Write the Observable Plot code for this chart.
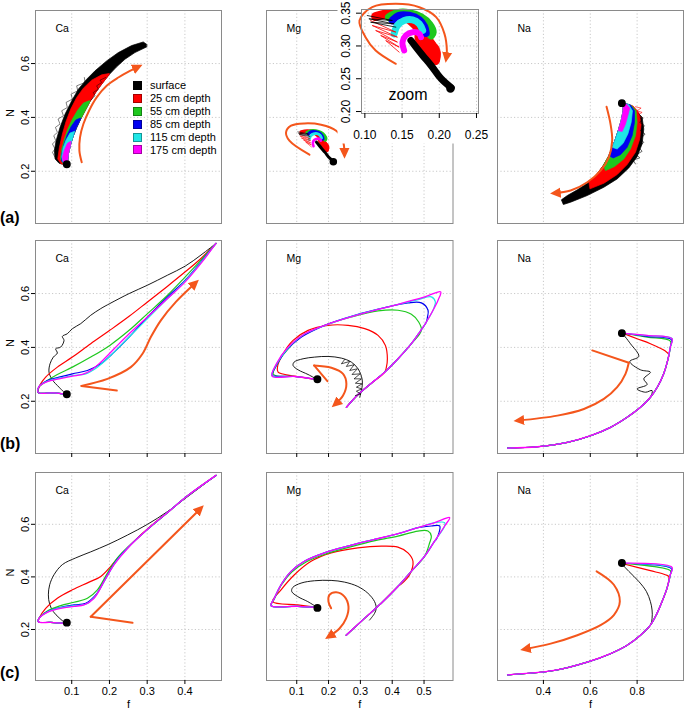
<!DOCTYPE html>
<html>
<head>
<meta charset="utf-8">
<script src="https://cdn.jsdelivr.net/npm/d3@7"></script>
<script src="https://cdn.jsdelivr.net/npm/@observablehq/plot@0.6"></script>
<style>
  html, body { margin: 0; padding: 0; background: #fff; }
  #chart { position: relative; width: 685px; height: 715px; overflow: hidden; background: #fff;
           font-family: "Liberation Sans", Arial, Helvetica, sans-serif; color: #000; }
  #chart svg { position: absolute; overflow: visible; max-width: none; }
  .rowlab { position: absolute; left: 0; font-size: 16px; font-weight: bold; line-height: 16px; }
  #legend { position: absolute; left: 133px; top: 79px; font-size: 11px; }
  #legend .item { display: flex; align-items: center; height: 12.9px; white-space: nowrap; }
  #legend .sw { width: 9px; height: 9px; margin-right: 8px; box-sizing: border-box; border: 1px solid rgba(0,0,0,0.35); }
</style>
</head>
<body>
<div id="chart"></div>
<script>
// ---------------- categories / labels ----------------
const SERIES = ["surface", "25 cm depth", "55 cm depth", "85 cm depth", "115 cm depth", "175 cm depth"];
const COLORS = ["#000000", "#ff0000", "#1ec81e", "#0000f0", "#1fe6e6", "#ff00ff"];
const ORANGE = "#f4561c";
const ELEMENTS = ["Ca", "Mg", "Na"];
const ROW_LABELS = ["(a)", "(b)", "(c)"];
const N_TICKS = [0.2, 0.4, 0.6];
const F_TICKS = [[0.1, 0.2, 0.3, 0.4], [0.1, 0.2, 0.3, 0.4, 0.5], [0.4, 0.6, 0.8]];
const ZOOM_F_TICKS = [0.10, 0.15, 0.20, 0.25];
const ZOOM_N_TICKS = [0.20, 0.25, 0.30, 0.35];

// ---------------- start points (black dots) ----------------
const CA_START = [0.087, 0.226];
const MG_START_A = [0.215, 0.235];
const MG_START = [0.165, 0.282];
const NA_START = [0.735, 0.453];

// ---------------- (a) Ca : bands ----------------
const CA_A_EDGE = [[0.0885,0.2272],[0.0912,0.2642],[0.0974,0.3012],[0.1044,0.3321],[0.1132,0.3630],[0.1238,0.3938],[0.1353,0.4247],[0.1485,0.4593],[0.1635,0.4926],[0.1794,0.5235],[0.1988,0.5580],[0.2190,0.5877],[0.2411,0.6160],[0.2675,0.6407],[0.2984,0.6617]];
const CA_A_UPPER = [
  [[0.2984,0.6716],[0.2896,0.6802],[0.2587,0.6667],[0.2235,0.6407],[0.1926,0.6099],[0.1617,0.5728],[0.1397,0.5420],[0.1176,0.5049],[0.1000,0.4617],[0.0824,0.4123],[0.0691,0.3630],[0.0586,0.3136],[0.0541,0.2765],[0.0559,0.2457],[0.0665,0.2296],[0.0841,0.2235]],
  [[0.1988,0.5630],[0.1794,0.5580],[0.1529,0.5383],[0.1309,0.5086],[0.1132,0.4741],[0.0974,0.4309],[0.0850,0.3852],[0.0753,0.3383],[0.0674,0.2889],[0.0630,0.2457],[0.0718,0.2272]],
  [[0.1459,0.4617],[0.1309,0.4531],[0.1159,0.4272],[0.1018,0.3938],[0.0894,0.3568],[0.0806,0.3198],[0.0735,0.2827],[0.0700,0.2457],[0.0780,0.2272]],
  [[0.1229,0.3975],[0.1106,0.3901],[0.0982,0.3654],[0.0877,0.3346],[0.0797,0.3012],[0.0735,0.2642],[0.0735,0.2370],[0.0824,0.2272]],
  [[0.1071,0.3481],[0.0956,0.3420],[0.0850,0.3160],[0.0771,0.2864],[0.0735,0.2543],[0.0771,0.2333]],
  [[0.0974,0.3111],[0.0885,0.3037],[0.0806,0.2790],[0.0753,0.2519],[0.0788,0.2296]]
];
const CA_A_REACH = [15, 11, 8, 6, 4, 3];
const CA_A_SPIKES_LEFT = [[0.0559,0.2519],[0.0489,0.2704],[0.0559,0.2827],[0.0489,0.3012],[0.0577,0.3136],[0.0524,0.3321],[0.0621,0.3444],[0.0568,0.3630],[0.0691,0.3753],[0.0638,0.3938],[0.0780,0.4062],[0.0735,0.4247],[0.0885,0.4370],[0.0850,0.4556],[0.1018,0.4679],[0.0982,0.4864],[0.1159,0.4988],[0.1132,0.5173],[0.1353,0.5296],[0.1335,0.5481]];
const CA_A_SPIKES_RIGHT = [[0.1511,0.4642],[0.1617,0.4802],[0.1573,0.4926],[0.1705,0.5049],[0.1661,0.5173],[0.1794,0.5296],[0.1750,0.5383],[0.1900,0.5481]];
const CA_A_ARROW = [[0.1265,0.2333],[0.1203,0.2765],[0.1220,0.3259],[0.1309,0.3753],[0.1459,0.4247],[0.1661,0.4741],[0.1926,0.5173],[0.2235,0.5481],[0.2543,0.5728],[0.2781,0.5889]];

// ---------------- (a) Mg : thick traces (also shown in zoom) ----------------
const MG_A_TRACES = [
  [[0.1619,0.3083],[0.1687,0.2982],[0.1777,0.2855],[0.1890,0.2702],[0.2025,0.2500],[0.2161,0.2362]],
  [[0.1145,0.3449],[0.1325,0.3490],[0.1506,0.3464],[0.1664,0.3337],[0.1777,0.3185],[0.1890,0.3033],[0.1958,0.2880],[0.1949,0.2778]],
  [[0.1325,0.3439],[0.1438,0.3500],[0.1596,0.3500],[0.1754,0.3439],[0.1867,0.3327],[0.1912,0.3210],[0.1890,0.3160]],
  [[0.1370,0.3388],[0.1461,0.3464],[0.1596,0.3464],[0.1732,0.3398],[0.1799,0.3297],[0.1822,0.3195]],
  [[0.1393,0.3185],[0.1438,0.3312],[0.1528,0.3388],[0.1641,0.3398],[0.1732,0.3337],[0.1777,0.3236]],
  [[0.1528,0.2931],[0.1506,0.3058],[0.1551,0.3160],[0.1641,0.3210],[0.1732,0.3185],[0.1754,0.3134]]
];
const MG_A_RED_BLOB = [[0.1687,0.3210],[0.1799,0.3185],[0.1912,0.3083],[0.1994,0.2982],[0.2012,0.2855],[0.1958,0.2753],[0.1876,0.2778],[0.1799,0.2880],[0.1732,0.2982],[0.1678,0.3083]];
const MG_A_BLACK_SPIKES = [[0.1032,0.3464],[0.1370,0.3388],[0.1054,0.3414],[0.1393,0.3337],[0.1077,0.3363],[0.1416,0.3287]];
const MG_A_RED_SPIKES = [[0.1077,0.3388],[0.1416,0.3211],[0.1099,0.3312],[0.1438,0.3134],[0.1145,0.3236],[0.1438,0.3058],[0.1213,0.3160],[0.1461,0.2982],[0.1280,0.3083],[0.1461,0.2906]];
const MG_A_ARROW = [[0.1399,0.2617],[0.0769,0.3136],[0.0664,0.3444],[0.0822,0.3691],[0.1241,0.3778],[0.1766,0.3728],[0.2239,0.3506],[0.2449,0.3136],[0.2501,0.2617]];
const MG_ZOOM_ARROW = [[0.1416,0.2728],[0.1145,0.2931],[0.1009,0.3134],[0.0928,0.3388],[0.1099,0.3591],[0.1416,0.3642],[0.1732,0.3591],[0.1958,0.3439],[0.2070,0.3185],[0.2102,0.2931],[0.2093,0.2804]];

// ---------------- (a) Na : bands ----------------
const NA_A_INNER = [[0.7404,0.4519],[0.7404,0.4247],[0.7319,0.3877],[0.7191,0.3506],[0.7050,0.3136],[0.6936,0.2889],[0.6794,0.2580],[0.6553,0.2210],[0.6270,0.1877],[0.5943,0.1593],[0.5447,0.1309],[0.5021,0.1099],[0.4766,0.0938]];
const NA_A_OUTER = [
  [[0.4851,0.0765],[0.5163,0.0852],[0.5872,0.1099],[0.6582,0.1407],[0.7149,0.1716],[0.7645,0.2123],[0.8000,0.2543],[0.8213,0.3012],[0.8284,0.3568],[0.8213,0.4000],[0.7929,0.4272],[0.7574,0.4494]],
  [[0.5986,0.1346],[0.6582,0.1556],[0.7149,0.1877],[0.7574,0.2247],[0.7929,0.2704],[0.8113,0.3198],[0.8170,0.3753],[0.8071,0.4185],[0.7830,0.4420]],
  [[0.6653,0.2025],[0.7035,0.2173],[0.7433,0.2457],[0.7716,0.2827],[0.7929,0.3321],[0.8000,0.3815],[0.7957,0.4247],[0.7773,0.4432]],
  [[0.6979,0.2494],[0.7291,0.2617],[0.7574,0.2889],[0.7787,0.3321],[0.7887,0.3815],[0.7887,0.4247],[0.7716,0.4457]],
  [[0.7149,0.2827],[0.7404,0.3037],[0.7603,0.3383],[0.7745,0.3815],[0.7801,0.4247],[0.7645,0.4469]],
  [[0.7362,0.3481],[0.7504,0.3753],[0.7603,0.4062],[0.7688,0.4346],[0.7546,0.4494]]
];
const NA_A_REACH = [13, 10, 8, 7, 6, 4];
const NA_A_BLACK_SPIKES = [[0.8071,0.4123],[0.8255,0.3975],[0.8113,0.3815],[0.8312,0.3691],[0.8142,0.3506],[0.8340,0.3383],[0.8142,0.3198],[0.8284,0.3074],[0.8071,0.2889],[0.8213,0.2741],[0.7972,0.2617],[0.8113,0.2494],[0.7830,0.2420],[0.7929,0.2272]];
const NA_A_RED_SPIKES = [[0.7929,0.4395],[0.8170,0.4346],[0.8000,0.4247],[0.8213,0.4185],[0.8043,0.4099],[0.8170,0.4000]];
const NA_A_ARROW = [[0.6695,0.4395],[0.6865,0.3753],[0.6936,0.3136],[0.6794,0.2519],[0.6440,0.2025],[0.5872,0.1593],[0.5163,0.1284],[0.4454,0.1185]];

// ---------------- (b) Ca ----------------
const CA_B_BOTTOM = [[0.0858,0.2249],[0.0531,0.2311],[0.0115,0.2323]];
const CA_B = [
  [[0.0858,0.2249],[0.0664,0.2522],[0.0487,0.2795],[0.0398,0.3081],[0.0425,0.3391],[0.0513,0.3640],[0.0619,0.3789],[0.0575,0.3950],[0.0708,0.4012],[0.0796,0.4261],[0.0752,0.4410],[0.0885,0.4509],[0.1018,0.4696],[0.1239,0.4882],[0.1504,0.5193],[0.1770,0.5441],[0.2009,0.5627],[0.2522,0.6000],[0.3009,0.6311],[0.3540,0.6683],[0.4009,0.7019],[0.4425,0.7429],[0.4823,0.7860]],
  [[0.0133,0.2522],[0.0310,0.2894],[0.0619,0.3267],[0.1018,0.3640],[0.1504,0.4137],[0.2009,0.4634],[0.2522,0.5155],[0.3009,0.5689],[0.3540,0.6273],[0.4009,0.6807],[0.4425,0.7304],[0.4823,0.7860]],
  [[0.0133,0.2522],[0.0354,0.2770],[0.0619,0.2994],[0.1018,0.3267],[0.1504,0.3640],[0.2009,0.4075],[0.2522,0.4634],[0.3009,0.5255],[0.3540,0.5938],[0.4009,0.6621],[0.4425,0.7242],[0.4823,0.7860]],
  [[0.0133,0.2547],[0.0354,0.2770],[0.0664,0.2894],[0.1018,0.3019],[0.1416,0.3143],[0.1770,0.3391],[0.2124,0.3826],[0.2522,0.4385],[0.3009,0.5130],[0.3540,0.5876],[0.4009,0.6497],[0.4425,0.7180],[0.4823,0.7860]],
  [[0.0133,0.2547],[0.0354,0.2745],[0.0664,0.2857],[0.1018,0.2957],[0.1372,0.3019],[0.1681,0.3267],[0.2035,0.3702],[0.2522,0.4385],[0.3009,0.5068],[0.3540,0.5814],[0.4009,0.6472],[0.4425,0.7155],[0.4823,0.7860]],
  [[0.0133,0.2547],[0.0354,0.2733],[0.0664,0.2832],[0.1018,0.2932],[0.1283,0.2994],[0.1504,0.3143],[0.1770,0.3453],[0.2124,0.3950],[0.2522,0.4509],[0.3009,0.5130],[0.3540,0.5814],[0.4009,0.6435],[0.4425,0.7118],[0.4823,0.7860]]
];
const CA_B_ARROW_TAIL = [[0.2195,0.2398],[0.1257,0.2571]];
const CA_B_ARROW = [[0.1257,0.2571],[0.1947,0.2832],[0.2566,0.3267],[0.2876,0.3764],[0.3097,0.4385],[0.3363,0.5006],[0.3761,0.5689],[0.4292,0.6410]];

// ---------------- (b) Mg ----------------
const MG_B_LOWER = [[0.5440,0.5752],[0.5283,0.5379],[0.5073,0.4944],[0.4864,0.4571],[0.4602,0.4137],[0.4183,0.3578],[0.3764,0.3081],[0.3346,0.2671],[0.2927,0.2249],[0.2560,0.1776]];
const MG_B_HEAD = [
  [[0.1649,0.2807],[0.1356,0.2994],[0.1042,0.3168],[0.0885,0.3329],[0.0916,0.3453],[0.1199,0.3578],[0.1565,0.3640],[0.1984,0.3665],[0.2403,0.3602],[0.2717,0.3453],[0.2927,0.3205],[0.3052,0.2832],[0.3052,0.2522],[0.2979,0.2149]],
  [[0.1649,0.2807],[0.0937,0.2932],[0.0414,0.3081],[0.0393,0.3267],[0.0571,0.3764],[0.0885,0.4261],[0.1356,0.4634],[0.1984,0.4820],[0.2613,0.4820],[0.3136,0.4696],[0.3555,0.4447],[0.3785,0.4075],[0.3848,0.3578],[0.3817,0.3267]],
  [[0.1649,0.2807],[0.0937,0.2919],[0.0361,0.2944],[0.0257,0.3019],[0.0414,0.3453],[0.0728,0.3950],[0.1199,0.4447],[0.1880,0.4820],[0.2717,0.5130],[0.3555,0.5354],[0.4183,0.5379],[0.4602,0.5230],[0.4832,0.4944],[0.4916,0.4634]],
  [[0.1649,0.2807],[0.0937,0.2919],[0.0309,0.2932],[0.0225,0.2957],[0.0361,0.3329],[0.0675,0.3888],[0.1147,0.4385],[0.1880,0.4820],[0.2822,0.5193],[0.3764,0.5478],[0.4497,0.5652],[0.4916,0.5652],[0.5126,0.5379],[0.5105,0.5106]],
  [[0.1649,0.2807],[0.0937,0.2919],[0.0225,0.2944],[0.0361,0.3366],[0.0707,0.3950],[0.1199,0.4460],[0.1984,0.4857],[0.3031,0.5255],[0.4079,0.5565],[0.4812,0.5776],[0.5230,0.5876],[0.5356,0.5689],[0.5314,0.5478]],
  [[0.1649,0.2807],[0.0937,0.2919],[0.0225,0.2932],[0.0361,0.3391],[0.0728,0.4012],[0.1251,0.4509],[0.2089,0.4907],[0.3136,0.5280],[0.4183,0.5602],[0.5021,0.5876],[0.5524,0.6062]]
];
const MG_B_JOIN = [null, 6, 4, 2, 1, 0];
const MG_B_SPIKES = [[0.2508,0.3553],[0.2403,0.3391],[0.2665,0.3478],[0.2560,0.3292],[0.2801,0.3354],[0.2665,0.3143],[0.2906,0.3205],[0.2738,0.2994],[0.2990,0.3019],[0.2801,0.2832],[0.3031,0.2832],[0.2843,0.2671],[0.3052,0.2646],[0.2874,0.2522],[0.3042,0.2460],[0.2874,0.2373],[0.3010,0.2273],[0.2843,0.2211]];
const MG_B_ARROW_TAIL = [[0.1963,0.2745],[0.1545,0.3329]];
const MG_B_ARROW = [[0.1545,0.3329],[0.2089,0.3242],[0.2455,0.3019],[0.2560,0.2646],[0.2455,0.2211],[0.2194,0.1876]];

// ---------------- (b) Na ----------------
const NA_B_RIGHT = [[0.9489,0.4323],[0.9418,0.4012],[0.9305,0.3516],[0.9135,0.3019],[0.8879,0.2547],[0.8567,0.2149],[0.8142,0.1776],[0.7574,0.1404],[0.6865,0.1031],[0.6014,0.0720],[0.5021,0.0472],[0.3745,0.0311],[0.2468,0.0261]];
const NA_B_HEAD = [
  [[0.7362,0.4534],[0.7716,0.4137],[0.8071,0.3665],[0.7688,0.3478],[0.8142,0.3168],[0.8567,0.3081],[0.8284,0.2832],[0.8426,0.2621],[0.8000,0.2460],[0.8355,0.2335],[0.8638,0.2398]],
  [[0.7362,0.4534],[0.8000,0.4323],[0.8567,0.4137],[0.9206,0.3863],[0.9348,0.3739]],
  [[0.7362,0.4534],[0.8426,0.4385],[0.9418,0.4236]],
  [[0.7362,0.4534],[0.8426,0.4410],[0.9461,0.4286]],
  [[0.7362,0.4534],[0.8426,0.4435],[0.9489,0.4335]],
  [[0.7362,0.4534],[0.8426,0.4447]]
];
const NA_B_JOIN = [5, 2, 1, 1, 1, 0];
const NA_B_ARROW_TAIL = [[0.6085,0.3888],[0.7645,0.3429]];
const NA_B_ARROW = [[0.7645,0.3429],[0.7504,0.3019],[0.7149,0.2522],[0.6582,0.2087],[0.5730,0.1714],[0.4596,0.1466],[0.2894,0.1280]];

// ---------------- (c) Ca ----------------
const CA_C_BOTTOM = [[0.0841,0.2230],[0.0442,0.2268],[0.0115,0.2294]];
const CA_C = [
  [[0.0841,0.2230],[0.0664,0.2447],[0.0513,0.2677],[0.0416,0.2958],[0.0381,0.3316],[0.0416,0.3700],[0.0531,0.4083],[0.0752,0.4467],[0.1106,0.4722],[0.1504,0.4952],[0.1965,0.5233],[0.2478,0.5591],[0.3009,0.6000],[0.3540,0.6486],[0.4071,0.7048],[0.4823,0.7860]],
  [[0.0133,0.2422],[0.0310,0.2805],[0.0619,0.3189],[0.1018,0.3508],[0.1460,0.3802],[0.1770,0.4019],[0.2035,0.4403],[0.2345,0.4914],[0.2655,0.5361],[0.3097,0.5936],[0.3540,0.6447],[0.4071,0.7086],[0.4823,0.7860]],
  [[0.0133,0.2422],[0.0354,0.2703],[0.0708,0.2907],[0.1062,0.3035],[0.1416,0.3189],[0.1681,0.3508],[0.1947,0.4147],[0.2212,0.4722],[0.2566,0.5233],[0.3009,0.5808],[0.3540,0.6447],[0.4071,0.7086],[0.4823,0.7860]],
  [[0.0133,0.2422],[0.0354,0.2677],[0.0708,0.2843],[0.1062,0.2933],[0.1372,0.2997],[0.1637,0.3316],[0.1903,0.3955],[0.2168,0.4594],[0.2522,0.5169],[0.3009,0.5808],[0.3540,0.6447],[0.4071,0.7086],[0.4823,0.7860]],
  [[0.0133,0.2422],[0.0354,0.2665],[0.0708,0.2831],[0.1062,0.2907],[0.1372,0.2958],[0.1637,0.3291],[0.1903,0.3930],[0.2168,0.4569],[0.2522,0.5157],[0.3009,0.5808],[0.3540,0.6447],[0.4071,0.7086],[0.4823,0.7860]],
  [[0.0133,0.2422],[0.0354,0.2652],[0.0708,0.2805],[0.1062,0.2882],[0.1327,0.2933],[0.1593,0.3189],[0.1858,0.3827],[0.2124,0.4467],[0.2478,0.5080],[0.3009,0.5808],[0.3540,0.6447],[0.4071,0.7086],[0.4823,0.7860]]
];
const CA_C_ARROW_TAIL = [[0.2611,0.2256],[0.1504,0.2486]];
const CA_C_ARROW = [[0.1504,0.2486],[0.4425,0.6613]];

// ---------------- (c) Mg ----------------
const MG_C_LOWER = [[0.5806,0.6256],[0.5648,0.5936],[0.5334,0.5361],[0.5019,0.4786],[0.4599,0.4211],[0.4179,0.3636],[0.3655,0.2997],[0.3130,0.2422],[0.2553,0.1783]];
const MG_C_LEFT = [[0.1640,0.2843],[0.1031,0.2882],[0.0192,0.2907]];
const MG_C_TOP = [[0.0297,0.3189],[0.0507,0.3700],[0.0822,0.4211],[0.1241,0.4594],[0.1871,0.4914],[0.2605,0.5169],[0.3445,0.5425],[0.4179,0.5642],[0.4809,0.5872]];
const MG_C_SURFACE = [[0.1640,0.2843],[0.1346,0.3061],[0.1031,0.3252],[0.0843,0.3444],[0.0874,0.3597],[0.1136,0.3764],[0.1556,0.3853],[0.2081,0.3866],[0.2501,0.3802],[0.2920,0.3636],[0.3235,0.3380],[0.3445,0.3061],[0.3497,0.2805],[0.3445,0.2613],[0.3288,0.2358]];
const MG_C_D25 = [[0.1640,0.2843],[0.1031,0.2933],[0.0244,0.3061],[0.0507,0.3508],[0.0927,0.4083],[0.1451,0.4594],[0.2081,0.4914],[0.2920,0.5105],[0.3655,0.5169],[0.4179,0.5131],[0.4494,0.4914],[0.4652,0.4594],[0.4547,0.4083],[0.4284,0.3725]];
const MG_C_D55 = [[0.0297,0.3163],[0.0507,0.3674],[0.0843,0.4185],[0.1294,0.4569],[0.1923,0.4875],[0.2658,0.5131],[0.3497,0.5387],[0.4179,0.5553],[0.4809,0.5744],[0.5124,0.5744],[0.5229,0.5553],[0.5176,0.5297]];
const MG_C_TIPS = [null, null, null, [[0.5229,0.5936],[0.5491,0.5936],[0.5386,0.5425]], [[0.5334,0.6064],[0.5648,0.6064]], [[0.5334,0.6064]]];
const MG_C_JOIN = [null, 5, 3, 2, 1, 0];
const MG_C_ARROW = [[0.2081,0.2805],[0.1997,0.3061],[0.2028,0.3316],[0.2238,0.3419],[0.2501,0.3252],[0.2626,0.2869],[0.2553,0.2422],[0.2343,0.2038],[0.1997,0.1719]];

// ---------------- (c) Na ----------------
const NA_C_RIGHT = [[0.9489,0.4364],[0.9418,0.4083],[0.9277,0.3572],[0.9064,0.3061],[0.8851,0.2613],[0.8567,0.2166],[0.8142,0.1783],[0.7574,0.1399],[0.6865,0.1080],[0.5872,0.0760],[0.4454,0.0441],[0.2468,0.0275]];
const NA_C_HEAD = [
  [[0.7319,0.4518],[0.7645,0.4211],[0.8071,0.3827],[0.8397,0.3444],[0.8567,0.3061],[0.8638,0.2741],[0.8638,0.2422]],
  [[0.7319,0.4518],[0.8567,0.4236],[0.9206,0.4083],[0.9348,0.4019]],
  [[0.7319,0.4518],[0.9418,0.4236]],
  [[0.7319,0.4518],[0.9461,0.4313]],
  [[0.7319,0.4518],[0.9489,0.4339]],
  [[0.7319,0.4518]]
];
const NA_C_JOIN = [5, 2, 1, 1, 1, 0];
const NA_C_ARROW = [[0.6270,0.4211],[0.7007,0.3700],[0.7262,0.3061],[0.7007,0.2550],[0.6440,0.2166],[0.5447,0.1783],[0.4312,0.1463],[0.3177,0.1246]];

// ================= layout & style (not data) =================
const FONT = '"Liberation Sans", Arial, Helvetica, sans-serif';
const GRID = "#c9c9c9";
const FRAME_C = "#8a8a8a";
const N_DOMAIN = [0.006, 0.797];
const F_DOMAINS = [[0.004, 0.497], [0.005, 0.591], [0.204, 0.998]];
const ZOOM_F_DOMAIN = [0.0955, 0.2527];
const ZOOM_N_DOMAIN = [0.197, 0.3556];
const COL_LEFT = [35, 265.5, 497];
const COL_W = [186, 186.5, 186];
const ROW_TOP = [10, 240, 472];
const ROW_H = [213, 213, 208];
const M = 45;

const chart = document.getElementById("chart");
const xy = {x: d => d[0], y: d => d[1]};

function bands(polys, order = [0,1,2,3,4,5]) {
  return order.map(i => Plot.line(polys[i], {...xy, fill: COLORS[i], stroke: COLORS[i], strokeWidth: 0.7, curve: "linear-closed"}));
}
function traces(ls, widths, order = [0,1,2,3,4,5]) {
  return order.map(i => Plot.line(ls[i], {...xy, stroke: COLORS[i], strokeWidth: widths[i], curve: "catmull-rom"}));
}
function spikes(pts, color, w = 0.6) {
  return Plot.line(pts, {...xy, stroke: color, strokeWidth: w, curve: "linear"});
}
function arrow(pts, curve = "catmull-rom") {
  return Plot.line(pts, {...xy, stroke: ORANGE, strokeWidth: 2, curve, markerEnd: "arrow"});
}
function tail(pts) {
  return Plot.line(pts, {...xy, stroke: ORANGE, strokeWidth: 2, curve: "linear"});
}
function dot(pt, r = 3.2) {
  return Plot.dot([pt], {...xy, r, fill: "#000", stroke: "#000"});
}
function fillMarkers(svg) {
  svg.querySelectorAll("marker").forEach(m => {
    const c = m.getAttribute("stroke") || ORANGE;
    m.setAttribute("fill", c);
    m.setAttribute("stroke", "none");
    const p = m.querySelector("path");
    if (p) p.setAttribute("d", "M-5,-3.8L3,0L-5,3.8Z");
  });
}
function place(svg, left, top) {
  svg.style.position = "absolute";
  svg.style.left = left + "px";
  svg.style.top = top + "px";
  svg.style.overflow = "visible";
  svg.style.maxWidth = "none";
  svg.style.fontFamily = FONT;
  svg.style.background = "transparent";
  fillMarkers(svg);
  chart.appendChild(svg);
}
const dotted = {stroke: GRID, strokeOpacity: 1, strokeDasharray: "1.2,2.2", strokeWidth: 1};

function panel(ci, ri, dataMarks) {
  const w = COL_W[ci], h = ROW_H[ri];
  const marks = [
    Plot.gridX(F_TICKS[ci], dotted),
    Plot.gridY(N_TICKS, dotted),
    ...dataMarks,
    Plot.frame({stroke: FRAME_C}),
    Plot.text([ELEMENTS[ci]], {text: d => d, frameAnchor: "top-left", dx: 20, dy: 14, textAnchor: "start", fontSize: 10.5})
  ];
  if (ci === 0) {
    marks.push(Plot.axisY({ticks: N_TICKS, tickRotate: -90, tickSize: 4, tickPadding: 3, fontSize: 11, label: null, tickFormat: d => d.toFixed(1)}));
    marks.push(Plot.text(["N"], {text: d => d, frameAnchor: "left", dx: -25, rotate: -90, fontSize: 11}));
  }
  if (ri === 1) marks.push(Plot.axisX({ticks: F_TICKS[ci], tickSize: 4, label: null, tickFormat: () => ""}));
  if (ri === 2) {
    marks.push(Plot.axisX({ticks: F_TICKS[ci], tickSize: 4, tickPadding: 3, fontSize: 11, label: null, tickFormat: d => d.toFixed(1)}));
    marks.push(Plot.text(["f"], {text: d => d, frameAnchor: "bottom", dy: 27, fontSize: 11}));
  }
  const svg = Plot.plot({
    width: w + 2 * M, height: h + 2 * M,
    marginLeft: M, marginRight: M, marginTop: M, marginBottom: M,
    x: ri === 0 ? {domain: F_DOMAINS[ci], axis: null} : {domain: F_DOMAINS[ci]},
    y: ci === 0 ? {domain: N_DOMAIN} : {domain: N_DOMAIN, axis: null},
    marks
  });
  place(svg, COL_LEFT[ci] - M, ROW_TOP[ri] - M);
}

// ---------- row (a) ----------
const caAPolys = CA_A_UPPER.map((up, i) => up.concat(CA_A_EDGE.slice(0, CA_A_REACH[i])));
panel(0, 0, [
  ...bands(caAPolys),
  spikes(CA_A_SPIKES_LEFT, "#000", 0.5),
  spikes(CA_A_SPIKES_RIGHT, "#000", 0.5),
  arrow(CA_A_ARROW),
  dot(CA_START)
]);

function mgAMarks(scale, arrowPts, dotR) {
  return [
    Plot.line(MG_A_RED_BLOB, {...xy, fill: COLORS[1], stroke: COLORS[1], strokeWidth: 0.7, curve: "catmull-rom-closed"}),
    ...traces(MG_A_TRACES, [7, 9, 8, 7.5, 7, 6].map(v => v * scale), [1, 2, 3, 4, 5]),
    spikes(MG_A_RED_SPIKES, COLORS[1], 0.8 * Math.max(scale, 0.7)),
    spikes(MG_A_BLACK_SPIKES, "#000", 0.8 * Math.max(scale, 0.7)),
    ...traces(MG_A_TRACES, [7 * scale], [0]),
    arrow(arrowPts),
    dot(MG_START_A, dotR)
  ];
}
panel(1, 0, mgAMarks(0.43, MG_A_ARROW, 3));

const naAPolys = NA_A_OUTER.map((out, i) => NA_A_INNER.slice(0, NA_A_REACH[i]).concat(out));
panel(2, 0, [
  ...bands(naAPolys),
  spikes(NA_A_BLACK_SPIKES, "#000", 0.6),
  spikes(NA_A_RED_SPIKES, COLORS[1], 0.6),
  arrow(NA_A_ARROW),
  dot(NA_START)
]);

// ---------- row (b) ----------
const TH = [0.9, 1.2, 1.2, 1.2, 1.2, 1.3];
const caBLines = CA_B.map((s, i) => i === 0 ? s : CA_B_BOTTOM.concat(s));
panel(0, 1, [...traces(caBLines, TH), tail(CA_B_ARROW_TAIL), arrow(CA_B_ARROW), dot(CA_START)]);

const mgBLines = MG_B_HEAD.map((h, i) => MG_B_JOIN[i] === null ? h : h.concat(MG_B_LOWER.slice(MG_B_JOIN[i])));
panel(1, 1, [...traces(mgBLines, TH), spikes(MG_B_SPIKES, "#000", 0.7), tail(MG_B_ARROW_TAIL), arrow(MG_B_ARROW), dot(MG_START)]);

const naBLines = NA_B_HEAD.map((h, i) => h.concat(NA_B_RIGHT.slice(NA_B_JOIN[i])));
panel(2, 1, [...traces(naBLines, TH), tail(NA_B_ARROW_TAIL), arrow(NA_B_ARROW), dot(NA_START)]);

// ---------- row (c) ----------
const caCLines = CA_C.map((s, i) => i === 0 ? s : CA_C_BOTTOM.concat(s));
panel(0, 2, [...traces(caCLines, TH), tail(CA_C_ARROW_TAIL), arrow(CA_C_ARROW, "linear"), dot(CA_START)]);

const mgCLines = [
  MG_C_SURFACE,
  MG_C_D25.concat(MG_C_LOWER.slice(MG_C_JOIN[1])),
  MG_C_LEFT.concat(MG_C_D55, MG_C_LOWER.slice(MG_C_JOIN[2])),
  MG_C_LEFT.concat(MG_C_TOP, MG_C_TIPS[3], MG_C_LOWER.slice(MG_C_JOIN[3])),
  MG_C_LEFT.concat(MG_C_TOP, MG_C_TIPS[4], MG_C_LOWER.slice(MG_C_JOIN[4])),
  MG_C_LEFT.concat(MG_C_TOP, MG_C_TIPS[5], MG_C_LOWER.slice(MG_C_JOIN[5]))
];
panel(1, 2, [...traces(mgCLines, TH), arrow(MG_C_ARROW), dot(MG_START)]);

const naCLines = NA_C_HEAD.map((h, i) => h.concat(NA_C_RIGHT.slice(NA_C_JOIN[i])));
panel(2, 2, [...traces(naCLines, TH), arrow(NA_C_ARROW), dot(NA_START)]);

// ---------- zoom inset on (a) Mg ----------
(function inset() {
  const w = 117, h = 104;
  const svg = Plot.plot({
    width: w + 2 * M, height: h + 2 * M,
    marginLeft: M, marginRight: M, marginTop: M, marginBottom: M,
    x: {domain: ZOOM_F_DOMAIN}, y: {domain: ZOOM_N_DOMAIN},
    marks: [
      Plot.frame({fill: "white", stroke: "none", insetLeft: -24, insetBottom: -30, insetTop: -9, insetRight: -3}),
      Plot.gridX(ZOOM_F_TICKS, dotted),
      Plot.gridY(ZOOM_N_TICKS, dotted),
      ...mgAMarks(1, MG_ZOOM_ARROW, 3.5),
      Plot.text(["zoom"], {text: d => d, frameAnchor: "bottom", dx: -12, dy: -14, fontSize: 16}),
      Plot.frame({stroke: FRAME_C}),
      Plot.axisX({ticks: ZOOM_F_TICKS, tickSize: 5, tickPadding: 12, fontSize: 12, label: null, tickFormat: d => d.toFixed(2)}),
      Plot.axisY({ticks: ZOOM_N_TICKS, tickSize: 5, tickPadding: 7, tickRotate: -90, fontSize: 12, label: null, tickFormat: d => d.toFixed(2)})
    ]
  });
  place(svg, 361 - M, 9 - M);
})();

// ---------- legend inside (a) Ca ----------
const legend = document.createElement("div");
legend.id = "legend";
SERIES.forEach((s, i) => {
  const item = document.createElement("div");
  item.className = "item";
  const sw = document.createElement("span");
  sw.className = "sw";
  sw.style.background = COLORS[i];
  const t = document.createElement("span");
  t.textContent = s;
  item.appendChild(sw); item.appendChild(t);
  legend.appendChild(item);
});
chart.appendChild(legend);

// ---------- row labels ----------
const ROW_LABEL_TOP = [209.5, 436, 665];
ROW_LABELS.forEach((l, i) => {
  const d = document.createElement("div");
  d.className = "rowlab";
  d.style.top = ROW_LABEL_TOP[i] + "px";
  d.textContent = l;
  chart.appendChild(d);
});
</script>
</body>
</html>
